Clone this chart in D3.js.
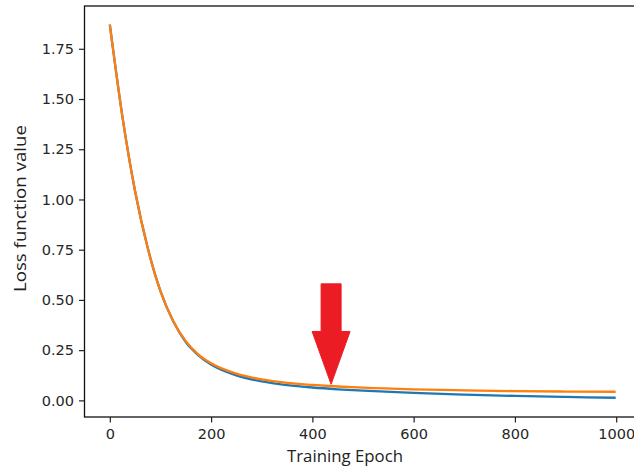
<!DOCTYPE html>
<html>
<head>
<meta charset="utf-8">
<script src="https://cdn.jsdelivr.net/npm/d3@7"></script>
<style>
  html, body { margin: 0; padding: 0; background: white; }
  svg { display: block; }
  .tick text { font-family: "DejaVu Sans", sans-serif; font-size: 14.5px; fill: #262626; }
  .axis-title { font-family: "Open Sans", sans-serif; fill: #222; }
</style>
</head>
<body>
<main></main>
<script>
const WIDTH = 634;
const HEIGHT = 468;

const epochs = [0, 25, 50, 75, 100, 125, 150, 175, 200, 250, 300, 350, 400, 450, 500, 600, 700, 800, 900, 999];
const lossA = [1.87, 1.41, 1.04, 0.757, 0.544, 0.395, 0.29, 0.224, 0.178, 0.124, 0.094, 0.076, 0.064, 0.055, 0.048, 0.037, 0.029, 0.022, 0.017, 0.013];
const lossB = [1.87, 1.41, 1.04, 0.757, 0.544, 0.395, 0.295, 0.228, 0.185, 0.133, 0.104, 0.087, 0.077, 0.069, 0.063, 0.055, 0.050, 0.046, 0.044, 0.043];

const xTicks = [0, 200, 400, 600, 800, 1000];
const yTicks = [0, 0.25, 0.5, 0.75, 1.0, 1.25, 1.5, 1.75];

// red arrow annotation (data coords)
const arrowEpoch = 437;
const arrowTip = 0.08;
const arrowNeck = 0.343;
const arrowTop = 0.58;

const margin = {left: 84.5, top: 6, right: -7, bottom: 51};

function drawChart () {
    var svg = d3.select("main").append("svg")
                .attr("width", WIDTH)
                .attr("height", HEIGHT);

    svg.append("rect")
       .attr("width", WIDTH)
       .attr("height", HEIGHT)
       .style("fill", "white");

    var x = d3.scaleLinear()
              .domain([-50, 1049])
              .range([margin.left, WIDTH - margin.right]);
    var y = d3.scaleLinear()
              .domain([-0.0828, 1.963])
              .range([HEIGHT - margin.bottom, margin.top]);

    var line = d3.line()
                 .x(function (d, i) { return x(epochs[i]); })
                 .y(function (d) { return y(d); })
                 .curve(d3.curveMonotoneX);

    svg.append("path")
       .datum(lossA)
       .attr("d", line)
       .style("fill", "none")
       .style("stroke", "#1f77b4")
       .style("stroke-width", 2.3);

    svg.append("path")
       .datum(lossB)
       .attr("d", line)
       .style("fill", "none")
       .style("stroke", "#ff7f0e")
       .style("stroke-width", 2.3);

    // arrow
    var shaftHalf = 10, headHalf = 19;
    var ax = x(arrowEpoch);
    var arrowPts = [
        [ax - shaftHalf, y(arrowTop)],
        [ax + shaftHalf, y(arrowTop)],
        [ax + shaftHalf, y(arrowNeck)],
        [ax + headHalf, y(arrowNeck)],
        [ax, y(arrowTip)],
        [ax - headHalf, y(arrowNeck)],
        [ax - shaftHalf, y(arrowNeck)]
    ];
    svg.append("polygon")
       .attr("points", arrowPts.map(function (p) { return p.join(","); }).join(" "))
       .style("fill", "#ec1c24")
       .style("stroke", "#ec1c24")
       .style("stroke-width", 1)
       .style("stroke-linejoin", "round");

    // spines
    svg.append("rect")
       .attr("x", margin.left)
       .attr("y", margin.top)
       .attr("width", WIDTH - margin.right - margin.left)
       .attr("height", HEIGHT - margin.bottom - margin.top)
       .style("fill", "none")
       .style("stroke", "#111")
       .style("stroke-width", 1.3);

    var xAxis = svg.append("g")
                   .attr("transform", "translate(0," + (HEIGHT - margin.bottom) + ")")
                   .call(d3.axisBottom(x).tickValues(xTicks).tickSize(5.5).tickPadding(6).tickFormat(d3.format("d")));
    var yAxis = svg.append("g")
                   .attr("transform", "translate(" + margin.left + ",0)")
                   .call(d3.axisLeft(y).tickValues(yTicks).tickSize(5.5).tickPadding(5).tickFormat(d3.format(".2f")));

    [xAxis, yAxis].forEach(function (a) {
        a.select(".domain").remove();
        a.selectAll(".tick line").style("stroke", "#222").style("stroke-width", 1.2);
    });

    svg.append("text")
       .attr("class", "axis-title")
       .attr("x", 345)
       .attr("y", 462)
       .attr("text-anchor", "middle")
       .style("font-size", "16px")
       .attr("textLength", 116)
       .attr("lengthAdjust", "spacingAndGlyphs")
       .text("Training Epoch");

    svg.append("text")
       .attr("class", "axis-title")
       .attr("transform", "translate(26,208.5) rotate(-90)")
       .attr("text-anchor", "middle")
       .style("font-size", "17px")
       .attr("textLength", 167)
       .attr("lengthAdjust", "spacingAndGlyphs")
       .text("Loss function value");
}

drawChart();
</script>
</body>
</html>
